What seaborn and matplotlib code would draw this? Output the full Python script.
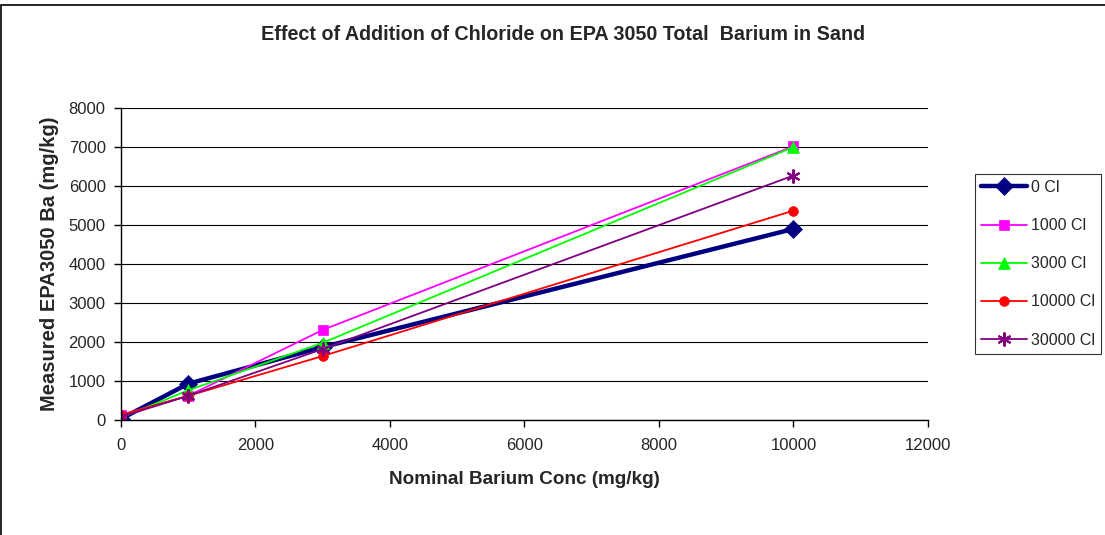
import matplotlib
matplotlib.use("Agg")
import matplotlib.pyplot as plt
import seaborn as sns
import pandas as pd

# Nominal barium spike levels (mg/kg)
nominal = [0, 1000, 3000, 10000]

# Measured EPA3050 Ba (mg/kg) for each chloride addition
ba_0cl = [30, 930, 1870, 4900]
ba_1000cl = [130, 620, 2310, 7020]
ba_3000cl = [60, 760, 1980, 7000]
ba_10000cl = [130, 620, 1640, 5370]
ba_30000cl = [80, 620, 1820, 6270]

series_names = ["0 Cl", "1000 Cl", "3000 Cl", "10000 Cl", "30000 Cl"]
series_values = [ba_0cl, ba_1000cl, ba_3000cl, ba_10000cl, ba_30000cl]

colors = ["#000080", "#FF00FF", "#00FF00", "#FF0000", "#800080"]
markers = ["D", "s", "^", "o", (6, 2, 0)]
linewidths = [3.2, 1.3, 1.3, 1.3, 1.3]
msizes = [9, 7, 8, 7, 10]

sns.set_theme(style="white")
plt.rcParams["font.family"] = ["Liberation Sans", "DejaVu Sans"]

fig = plt.figure(figsize=(11.05, 5.35), dpi=100)
ax = fig.add_axes([0.1095, 0.215, 0.7303, 0.583])

frames = []
for name, vals in zip(series_names, series_values):
    frames.append(pd.DataFrame({"Nominal": nominal, "Measured": vals, "Series": name}))
df = pd.concat(frames, ignore_index=True)

for name, c, m, lw, ms in zip(series_names, colors, markers, linewidths, msizes):
    sub = df[df["Series"] == name]
    sns.lineplot(data=sub, x="Nominal", y="Measured", ax=ax, color=c, marker=m,
                 linewidth=lw, markersize=ms, markeredgecolor=c,
                 markeredgewidth=1.5 if m == (6, 2, 0) else 0.5,
                 label=name, legend=False)

ax.set_xlim(0, 12000)
ax.set_ylim(0, 8000)
ax.set_xticks(range(0, 12001, 2000))
ax.set_yticks(range(0, 8001, 1000))
ax.yaxis.grid(True, color="#000000", linewidth=0.8)
ax.xaxis.grid(False)
ax.set_axisbelow(True)
for s in ["top", "right"]:
    ax.spines[s].set_visible(False)
for s in ["left", "bottom"]:
    ax.spines[s].set_color("#000000")
    ax.spines[s].set_linewidth(1.0)
ax.tick_params(axis="both", which="major", labelsize=12, direction="out",
               length=5, width=1, color="#000000", bottom=True, left=True)
ax.tick_params(axis="y", pad=6)
ax.tick_params(axis="x", pad=8)

ax.set_xlabel("Nominal Barium Conc (mg/kg)", fontsize=13.6, fontweight="bold", labelpad=13)
ax.set_ylabel("Measured EPA3050 Ba (mg/kg)", fontsize=14.5, fontweight="bold", labelpad=7)
fig.text(0.5095, 0.935, "Effect of Addition of Chloride on EPA 3050 Total  Barium in Sand",
         ha="center", va="center", fontsize=14.2, fontweight="bold")

handles, labels = ax.get_legend_handles_labels()
leg = fig.legend(handles, labels, loc="upper left", bbox_to_anchor=(0.8824, 0.675),
                 fontsize=11.5, frameon=True, fancybox=False, edgecolor="#000000",
                 handlelength=2.9, labelspacing=1.45, borderpad=0.38,
                 borderaxespad=0, handletextpad=0.2)
leg.get_frame().set_linewidth(0.8)

# Outer chart frame
fig.patches.append(plt.Rectangle((0.001, -0.01), 1.2, 1.0, transform=fig.transFigure,
                                 fill=False, edgecolor="#000000", linewidth=1.2))

fig.savefig("out.png", dpi=100)
